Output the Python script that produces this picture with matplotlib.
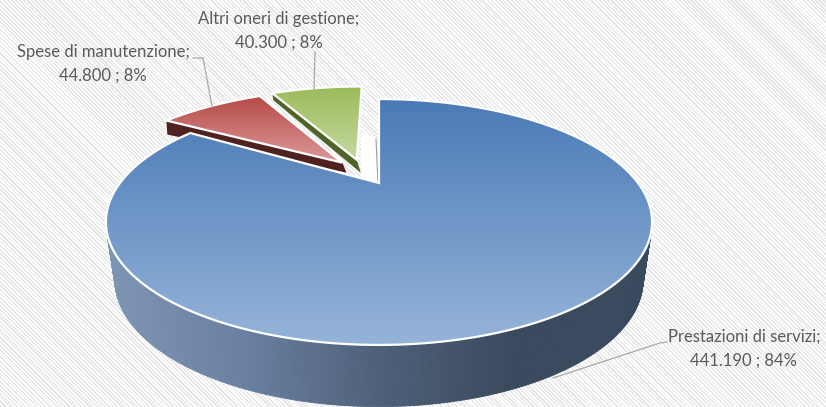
import numpy as np
import matplotlib
matplotlib.use("Agg")
import matplotlib.pyplot as plt
from matplotlib.patches import Polygon
from matplotlib.colors import LinearSegmentedColormap as LSC

categories = ["Prestazioni di servizi", "Spese di manutenzione", "Altri oneri di gestione"]
values = [441190, 44800, 40300]
value_labels = ["441.190", "44.800", "40.300"]
percent_labels = ["84%", "8%", "8%"]

W, H = 826, 407
fig = plt.figure(figsize=(W / 100, H / 100), dpi=100)
ax = fig.add_axes([0, 0, 1, 1])
ax.set_xlim(0, W); ax.set_ylim(H, 0); ax.axis("off")

# hatched background
yy, xx = np.mgrid[0:H, 0:W]
bg = 0.955 + 0.045 * np.sign(np.sin((xx - yy) * 2 * np.pi / 4.0))
ax.imshow(bg, cmap="gray", vmin=0, vmax=1, extent=(0, W, H, 0), aspect="auto",
          interpolation="bilinear", zorder=0)

# perspective projection of the pie's unit circle
CX, CY, A, B, K = 379, 183, 259, 110.6, 0.317
def proj(u, v):
    w = 1 + K * v
    return CX + A * u / w, CY - B * v / w
def lower(x, y):
    return CX + (x - CX) * 0.967, 280 + (y - 222) * 1.03

fracs = np.array(values) / sum(values)
edges = np.concatenate([[0], np.cumsum(fracs)]) * 2 * np.pi
offsets = [(0, 0), (-0.150, 0.161), (-0.092, 0.207)]
tip_offsets = [(0, 0), (-0.150, 0.195), (-0.092, 0.225)]
wall_depth = [(0, 0), (10, 14), (13, 7)]   # at tip, at outer corner
top_cols = [("#4a7ab6", "#96b4d9"), ("#b64a48", "#dd9b99"), ("#9bbb59", "#c6d9a0")]
wall_cols = ["#3a4a5e", "#4f2120", "#4f6228"]

def outline(i, n=240):
    a = np.linspace(edges[i], edges[i + 1], n)
    du, dv = offsets[i]
    x, y = proj(np.sin(a) + du, np.cos(a) + dv)
    tx, ty = proj(*tip_offsets[i])
    return np.column_stack([x, y]), (tx, ty)

def grad_face(i, z):
    arc, tip = outline(i)
    pts = np.vstack([[tip], arc])
    c = LSC.from_list("g", top_cols[i])
    y0, y1 = pts[:, 1].min(), pts[:, 1].max()
    im = ax.imshow(np.linspace(0, 1, 256)[:, None], cmap=c, aspect="auto",
                   extent=(pts[:, 0].min(), pts[:, 0].max(), y1, y0), zorder=z)
    poly = Polygon(pts, closed=True, fc="none", ec="white", lw=1.6, zorder=z + 0.1, joinstyle="miter")
    ax.add_patch(poly)
    im.set_clip_path(Polygon(pts, closed=True, transform=ax.transData))

# blue outer wall, shaded left to right
arc, tip = outline(0, 500)
wall_cmap = LSC.from_list("w", ["#7d94b3", "#6a80a0", "#4e6079", "#3a4a5e", "#3a4a5e"])
low = np.column_stack(lower(arc[:, 0], arc[:, 1]))
for j in range(len(arc) - 1):
    q = [arc[j], arc[j + 1], low[j + 1], low[j]]
    t = (arc[j, 0] - 107) / 546
    ax.add_patch(Polygon(q, closed=True, fc=wall_cmap(t), ec=wall_cmap(t), lw=0.6, zorder=1))

# exploded slices' side walls
for i in (1, 2):
    arc, tip = outline(i)
    d0, d1 = wall_depth[i]
    q = [tip, arc[0], (arc[0][0] + 1, arc[0][1] + d1), (tip[0] + 4, tip[1] + d0)]
    ax.add_patch(Polygon(q, closed=True, fc=wall_cols[i], ec="none", zorder=2))

# inner cut of the blue slice
ax.add_patch(Polygon([(361, 132), (377, 138), (378, 184), (361, 178)], closed=True, fc="white", ec="none", zorder=1.5))
ax.plot([376, 378], [139, 184], color="#8f9bab", lw=0.8, zorder=2.6)

grad_face(2, 3)
grad_face(1, 4)
grad_face(0, 5)

# labels and leader lines
font = ["Lato", "DejaVu Sans"]
def label(i, x, y):
    ax.text(x, y, f"{categories[i]};\n{value_labels[i]} ; {percent_labels[i]}", ha="center", va="center",
            fontsize=12, color="#5a5a5a", family=font, linespacing=1.6, zorder=8)

label(0, 744, 349)
label(1, 103, 64)
label(2, 279, 31)
ax.plot([553, 660, 667], [378, 343, 342], color="#a9a9a9", lw=0.9, zorder=7)
ax.plot([193, 203, 212], [58, 58, 106], color="#a9a9a9", lw=0.9, zorder=7)
ax.plot([315, 314], [52, 90], color="#a9a9a9", lw=0.9, zorder=7)

fig.savefig("out.png", dpi=100)
